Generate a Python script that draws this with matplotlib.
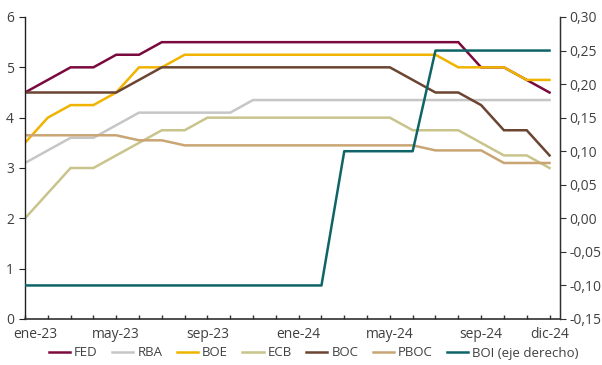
import matplotlib
matplotlib.use("Agg")
import matplotlib.pyplot as plt
import matplotlib.transforms as mtransforms

plt.rcParams['font.family'] = ['Open Sans', 'DejaVu Sans']

# Monthly policy rates, ene-23 .. dic-24 (24 months)
months = list(range(24))
tick_pos = [0, 4, 8, 12, 16, 20, 23]
tick_labels = ['ene-23', 'may-23', 'sep-23', 'ene-24', 'may-24', 'sep-24', 'dic-24']

fed = [4.5, 4.75, 5.0, 5.0, 5.25, 5.25, 5.5, 5.5, 5.5, 5.5, 5.5, 5.5,
       5.5, 5.5, 5.5, 5.5, 5.5, 5.5, 5.5, 5.5, 5.0, 5.0, 4.75, 4.5]
rba = [3.1, 3.35, 3.6, 3.6, 3.85, 4.1, 4.1, 4.1, 4.1, 4.1, 4.35, 4.35,
       4.35, 4.35, 4.35, 4.35, 4.35, 4.35, 4.35, 4.35, 4.35, 4.35, 4.35, 4.35]
boe = [3.5, 4.0, 4.25, 4.25, 4.5, 5.0, 5.0, 5.25, 5.25, 5.25, 5.25, 5.25,
       5.25, 5.25, 5.25, 5.25, 5.25, 5.25, 5.25, 5.0, 5.0, 5.0, 4.75, 4.75]
ecb = [2.0, 2.5, 3.0, 3.0, 3.25, 3.5, 3.75, 3.75, 4.0, 4.0, 4.0, 4.0,
       4.0, 4.0, 4.0, 4.0, 4.0, 3.75, 3.75, 3.75, 3.5, 3.25, 3.25, 3.0]
boc = [4.5, 4.5, 4.5, 4.5, 4.5, 4.75, 5.0, 5.0, 5.0, 5.0, 5.0, 5.0,
       5.0, 5.0, 5.0, 5.0, 5.0, 4.75, 4.5, 4.5, 4.25, 3.75, 3.75, 3.25]
pboc = [3.65, 3.65, 3.65, 3.65, 3.65, 3.55, 3.55, 3.45, 3.45, 3.45, 3.45, 3.45,
        3.45, 3.45, 3.45, 3.45, 3.45, 3.45, 3.35, 3.35, 3.35, 3.1, 3.1, 3.1]
boi = [-0.1, -0.1, -0.1, -0.1, -0.1, -0.1, -0.1, -0.1, -0.1, -0.1, -0.1, -0.1,
       -0.1, -0.1, 0.1, 0.1, 0.1, 0.1, 0.25, 0.25, 0.25, 0.25, 0.25, 0.25]

fig = plt.figure(figsize=(6.02, 3.65), dpi=100)
ax = fig.add_axes([25 / 602, 1 - 319 / 365, 535 / 602, 302 / 365])
ax2 = ax.twinx()

lw = 1.8
series = [
    (fed, '#7A0A3E', 'FED'),
    (rba, '#C6C6C6', 'RBA'),
    (boe, '#F0B400', 'BOE'),
    (ecb, '#C9C48C', 'ECB'),
    (boc, '#6B4432', 'BOC'),
    (pboc, '#C9A574', 'PBOC'),
]
handles = []
for vals, col, name in series:
    h, = ax.plot(months, vals, color=col, lw=lw, label=name, solid_joinstyle='miter')
    handles.append(h)
h, = ax2.plot(months, boi, color='#0E6467', lw=lw, label='BOI (eje derecho)')
handles.append(h)

ax.set_xlim(0, 23.46)
ax.set_ylim(0, 6)
ax2.set_ylim(-0.15, 0.30)
ax.set_yticks(range(7))
ax2.set_yticks([-0.15, -0.10, -0.05, 0.0, 0.05, 0.10, 0.15, 0.20, 0.25, 0.30])
ax2.set_yticklabels([f'{v:.2f}'.replace('.', ',') for v in ax2.get_yticks()])

ax.set_xticks(months, minor=True)
ax.set_xticks(tick_pos)
ax.set_xticklabels(tick_labels)

txt = '#404040'
ax.tick_params(axis='x', which='both', direction='in', length=3, width=1, color='#303030',
               labelsize=10, labelcolor=txt, pad=6)
ax.tick_params(axis='y', direction='out', length=4, color='#202020',
               labelsize=10, labelcolor=txt, pad=4)
ax2.tick_params(axis='y', direction='out', length=4, color='#303030',
                labelsize=10, labelcolor=txt, pad=3)

# first date label sits a bit to the right of the axis corner
lab0 = ax.get_xticklabels()[0]
lab0.set_transform(lab0.get_transform() + mtransforms.ScaledTranslation(10 / 100, 0, fig.dpi_scale_trans))

for a in (ax, ax2):
    a.spines['top'].set_visible(False)
ax.spines['left'].set_color('#202020')
ax.spines['left'].set_linewidth(1.0)
ax.spines['bottom'].set_color('#303030')
ax.spines['bottom'].set_linewidth(1.2)
ax2.spines['left'].set_visible(False)
ax2.spines['bottom'].set_visible(False)
ax2.spines['right'].set_color('#303030')
ax2.spines['right'].set_linewidth(1.0)

fig.legend(handles=handles, loc='center', bbox_to_anchor=(314 / 602, 1 - 353 / 365),
           ncol=7, frameon=False, fontsize=9.5, handlelength=1.6, handletextpad=0.3,
           columnspacing=1.1, labelcolor=txt)

fig.savefig('out.png', dpi=100)
